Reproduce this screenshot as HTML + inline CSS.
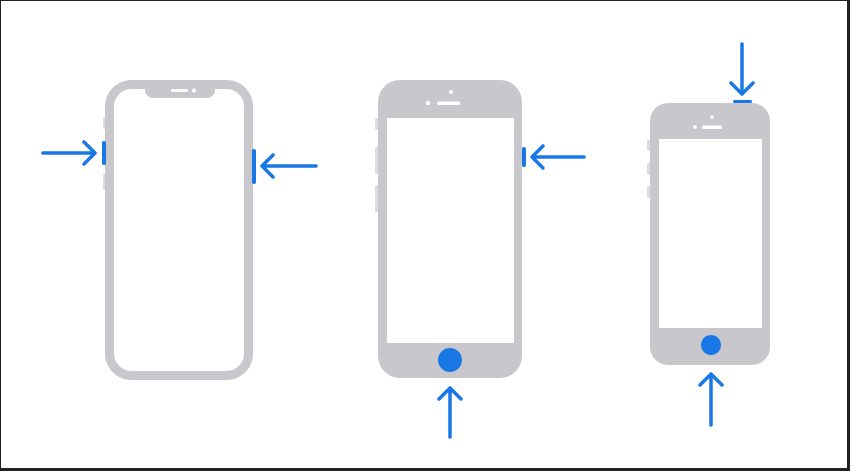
<!DOCTYPE html>
<html><head><style>html,body{margin:0;padding:0;background:#fff}svg{display:block}</style></head>
<body>
<svg width="850" height="471" viewBox="0 0 850 471" xmlns="http://www.w3.org/2000/svg">
<rect x="0" y="0" width="850" height="471" fill="#fff"/>
<rect x="0.5" y="0.5" width="848" height="469" fill="none" stroke="#222" stroke-width="1"/>
<rect x="847" y="0" width="3" height="471" fill="#222"/>
<rect x="0" y="468" width="850" height="3" fill="#222"/>
<g fill="#dcdce0">
  <rect x="103" y="117" width="3" height="12" rx="1.5"/>
  <rect x="103" y="174" width="3" height="16" rx="1.5"/>
  <rect x="375" y="118" width="4" height="12" rx="2"/>
  <rect x="375" y="147" width="4" height="27" rx="2"/>
  <rect x="375" y="185" width="4" height="27" rx="2"/>
  <rect x="647" y="140" width="4" height="11" rx="2"/>
  <rect x="647" y="163" width="4" height="12" rx="2"/>
  <rect x="647" y="186" width="4" height="12" rx="2"/>
</g>
<g fill="#c8c8cc" stroke="none">
  <path d="M145 84 h70 v6 a8 8 0 0 1 -8 8 h-54 a8 8 0 0 1 -8 -8z"/>
  <path d="M400 80 h100 a22 22 0 0 1 22 22 v254 a22 22 0 0 1 -22 22 h-100 a22 22 0 0 1 -22 -22 v-254 a22 22 0 0 1 22 -22z M387 118 v225 h127 v-225z" fill-rule="evenodd"/>
  <path d="M668 103 h84 a18 18 0 0 1 18 18 v226 a18 18 0 0 1 -18 18 h-84 a18 18 0 0 1 -18 -18 v-226 a18 18 0 0 1 18 -18z M659 139 v189 h103 v-189z" fill-rule="evenodd"/>
</g>
<rect x="109.5" y="84.5" width="139" height="291" rx="22" fill="none" stroke="#c8c8cc" stroke-width="9"/>
<g fill="#fff">
  <rect x="171" y="89" width="17" height="3" rx="1.5"/>
  <circle cx="194" cy="90.5" r="2"/>
  <circle cx="428" cy="103" r="2.2"/>
  <rect x="437" y="101.5" width="23" height="3.5" rx="1.7"/>
  <circle cx="451" cy="92" r="2"/>
  <circle cx="695" cy="127" r="1.8"/>
  <rect x="702" y="125.5" width="20" height="3.5" rx="1.7"/>
  <circle cx="712" cy="117" r="1.8"/>
</g>
<g fill="#1a78e6">
  <circle cx="450" cy="360" r="12"/>
  <circle cx="711" cy="345" r="10"/>
  <rect x="102" y="141" width="4" height="24" rx="2"/>
  <rect x="252" y="149" width="4" height="35" rx="2"/>
  <rect x="522" y="147" width="4" height="20" rx="2"/>
  <rect x="733" y="100" width="19" height="3" rx="1.5"/>
</g>
<g stroke="#1a78e6" stroke-width="3.5" fill="none" stroke-linecap="round" stroke-linejoin="round">
  <path d="M43 153 H95 M84 142 L95 153 L84 164"/>
  <path d="M316 166 H262 M273 155 L262 166 L273 177"/>
  <path d="M584 157 H532 M543 146 L532 157 L543 168"/>
  <path d="M450 437 V388 M439 399 L450 388 L461 399"/>
  <path d="M711 425 V374 M700 385 L711 374 L722 385"/>
  <path d="M742 44 V94 M731 83 L742 94 L753 83"/>
</g>
</svg>
</body></html>
